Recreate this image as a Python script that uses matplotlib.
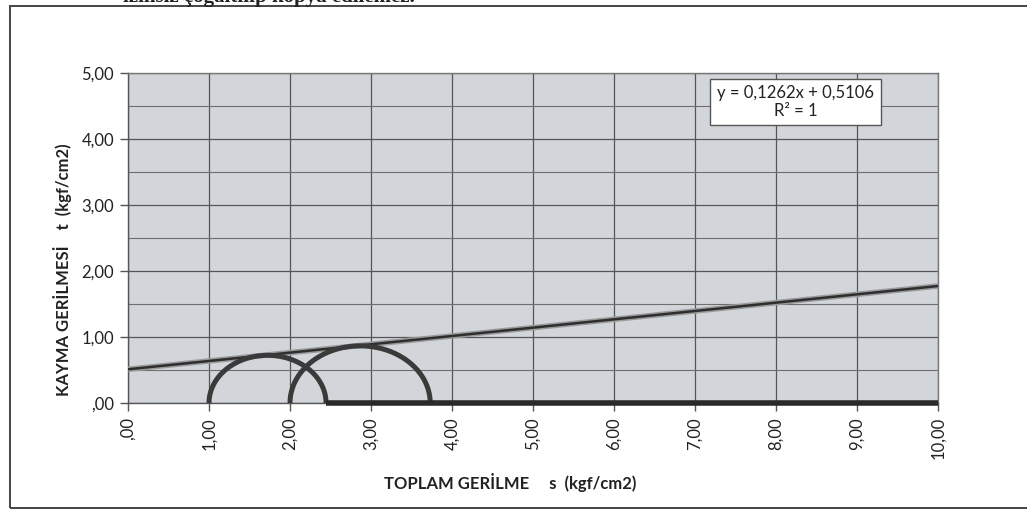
import numpy as np
import matplotlib
matplotlib.use("Agg")
import matplotlib.pyplot as plt
from matplotlib.patches import Rectangle
from matplotlib.ticker import MultipleLocator, FixedLocator

plt.rcParams['font.family'] = ['Lato', 'DejaVu Sans']

# Mohr circles: minor and major principal stresses (kgf/cm2)
sigma3 = [1.00, 2.00]
sigma1 = [2.445, 3.731]

# Failure envelope (linear trendline)
slope = 0.1262
intercept = 0.5106
r_squared = 1

# Stress axis segment drawn after the first circle
base_x = [2.445, 10.00]
base_y = [0.00, 0.00]

x_ticks = [0, 1, 2, 3, 4, 5, 6, 7, 8, 9, 10]
x_tick_labels = [",00", "1,00", "2,00", "3,00", "4,00", "5,00",
                 "6,00", "7,00", "8,00", "9,00", "10,00"]
y_ticks = [0, 1, 2, 3, 4, 5]
y_tick_labels = [",00", "1,00", "2,00", "3,00", "4,00", "5,00"]

W, H = 1027, 519
fig = plt.figure(figsize=(W / 100, H / 100), dpi=100)
fig.patch.set_facecolor("white")

# outer chart frame
fig.patches.append(Rectangle((10 / W, 1 - 508 / H), 1.2, (508 - 6) / H,
                             transform=fig.transFigure, fill=False,
                             edgecolor="#444444", lw=1.4))
# line of document text running off the top edge
fig.text(415 / W, 1 - 2 / H, "izinsiz çoğaltılıp kopya edilemez.",
         ha="right", va="baseline", family="Liberation Serif",
         fontsize=15, fontweight="bold", color="#222222")

ax = fig.add_axes([128 / W, 1 - 403 / H, 810 / W, 330 / H])
ax.set_facecolor("#d2d6da")
ax.set_xlim(0, 10)
ax.set_ylim(0, 5)

ax.xaxis.set_major_locator(FixedLocator(x_ticks))
ax.yaxis.set_major_locator(FixedLocator(y_ticks))
ax.yaxis.set_minor_locator(MultipleLocator(0.5))
ax.set_xticklabels(x_tick_labels, rotation=90, fontsize=12, color="#222222")
ax.set_yticklabels(y_tick_labels, fontsize=12, color="#222222")
ax.tick_params(axis="both", which="major", length=6, width=1,
               color="#555555", pad=4)
ax.tick_params(axis="y", which="minor", length=0)

ax.grid(True, which="major", color="#555555", lw=0.9)
ax.grid(True, which="minor", axis="y", color="#6e6e6e", lw=0.8)
ax.set_axisbelow(True)
for side in ["left", "bottom"]:
    ax.spines[side].set_color("#555555")
    ax.spines[side].set_linewidth(1.0)
for side in ["top", "right"]:
    ax.spines[side].set_color("#777777")
    ax.spines[side].set_linewidth(1.0)

# failure envelope
xs = np.array([0.0, 10.0])
ax.plot(xs, slope * xs + intercept, color="#9a9a9a", lw=4.0,
        solid_capstyle="butt", zorder=3)
ax.plot(xs, slope * xs + intercept, color="#2e2e2e", lw=1.8,
        solid_capstyle="butt", zorder=4)

# Mohr half-circles
for s3, s1 in zip(sigma3, sigma1):
    c = (s1 + s3) / 2
    r = (s1 - s3) / 2
    t = np.linspace(np.pi, 0, 200)
    ax.plot(c + r * np.cos(t), r * np.sin(t), color="#3a3a3a", lw=3.6,
            solid_capstyle="butt", clip_on=False, zorder=5)

ax.plot(base_x, base_y, color="#2a2a2a", lw=4.0, solid_capstyle="butt",
        clip_on=False, zorder=5)

# trendline equation box
eq = f"y = {slope:.4f}x + {intercept:.4f}".replace(".", ",") + f"\nR² = {r_squared}"
ax.text(8.24, 4.56, eq, ha="center", va="center", fontsize=12,
        color="#222222", linespacing=1.1, zorder=6,
        bbox=dict(boxstyle="square,pad=0.4", facecolor="white",
                  edgecolor="#555555", lw=1.0))

fig.text(63 / W, 1 - 270 / H, "KAYMA GERİLMESİ    t  (kgf/cm2)",
         rotation=90, ha="center", va="center", fontsize=12,
         fontweight="bold", color="#222222")
fig.text(510 / W, 1 - 483 / H, "TOPLAM GERİLME     s  (kgf/cm2)",
         ha="center", va="center", fontsize=12, fontweight="bold",
         color="#222222")

fig.savefig("out.png", dpi=100)
